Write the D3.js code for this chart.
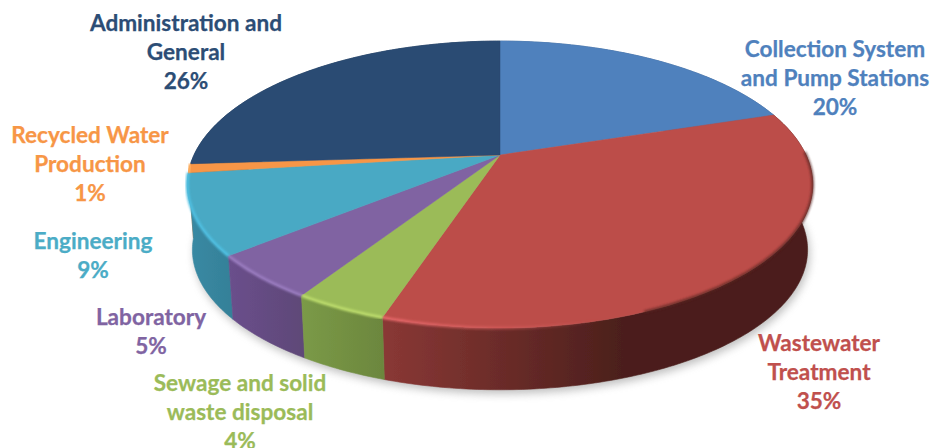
<!DOCTYPE html>
<html>
<head>
<meta charset="utf-8">
<script src="https://cdn.jsdelivr.net/npm/d3@7/dist/d3.min.js"></script>
<style>
html, body { margin: 0; background: #fff; }
svg { display: block; }
text { font-family: Lato, "Open Sans", sans-serif; font-weight: 700; font-size: 22.6px; text-anchor: middle; dominant-baseline: central; stroke-width: 0.25px; paint-order: stroke; }
</style>
</head>
<body>
<svg id="chart" width="946" height="448"></svg>
<script>
// Budget shares by department, clockwise from twelve o'clock.
const categories = [
  "Collection System and Pump Stations", "Wastewater Treatment",
  "Sewage and solid waste disposal", "Laboratory", "Engineering",
  "Recycled Water Production", "Administration and General"
];
const shares = [20, 35, 4, 5, 9, 1, 26];
const labelLines = [
  ["Collection System", "and Pump Stations"], ["Wastewater", "Treatment"],
  ["Sewage and solid", "waste disposal"], ["Laboratory"], ["Engineering"],
  ["Recycled Water", "Production"], ["Administration and", "General"]
];
const faceColors = ["#4f81bd", "#bc4e4a", "#9bbb59", "#8064a2", "#49a9c4", "#f79646", "#2a4b73"];
const textColors = ["#4f81bd", "#c0504d", "#9bbb59", "#8064a2", "#4bacc6", "#f79646", "#2c4d75"];
const wallStops = [
  ["#3c6190", "#3c6190"], ["#8a3835", "#4b1f1c"], ["#7b9a47", "#6c873e"],
  ["#6a4f8c", "#5f4878"], ["#3a8aa4", "#358199"], ["#c0702f", "#c0702f"], ["#203a59", "#203a59"]
];
const rimColors = ["#6f9fd8", "#e8686a", "#bcdc6c", "#9a7cc0", "#4fc0e2", "#ffb060", "#3a5f8c"];
const labelCenters = [[835, 48], [819, 342], [240, 382], [151, 316], [93, 240], [90, 134], [186, 22]];

const svg = d3.select("#chart");
const defs = svg.append("defs");
defs.append("filter").attr("id", "soft").attr("x", "-5%").attr("y", "-5%").attr("width", "110%").attr("height", "110%")
  .append("feGaussianBlur").attr("stdDeviation", 0.6);
defs.append("filter").attr("id", "glow").attr("x", "-5%").attr("y", "-5%").attr("width", "110%").attr("height", "110%")
  .append("feGaussianBlur").attr("stdDeviation", 1.1);
defs.append("filter").attr("id", "drop").attr("x", "-10%").attr("y", "-10%").attr("width", "120%").attr("height", "130%")
  .append("feGaussianBlur").attr("stdDeviation", 4);

// Tilted disc: unit-circle coordinates go through a perspective divide,
// so the near half of the pie looks larger than the far half.
const tilt = 0.206;
const topPlane = {
  x: d3.scaleLinear().domain([-1, 1]).range([194, 806]),
  y: d3.scaleLinear().domain([-1, 1]).range([17.6, 292.4])
};
const basePlane = {
  x: d3.scaleLinear().domain([-1, 1]).range([199, 801]),
  y: d3.scaleLinear().domain([-1, 1]).range([87, 355])
};
const project = (plane, angle) => {
  const u = Math.sin(angle), v = -Math.cos(angle), w = 1 - tilt * v;
  return [plane.x(u / w), plane.y(v / w)];
};
const rim = (plane, a0, a1) => {
  const n = Math.max(2, Math.ceil((a1 - a0) / 0.015));
  return d3.range(n + 1).map(i => project(plane, a0 + (a1 - a0) * i / n));
};
const line = d3.line();

const arcs = d3.pie().sort(null).value(d => d)(shares);
const centre = [topPlane.x(0), topPlane.y(0)];
const fullCircle = rim(basePlane, 0, 2 * Math.PI);

// Soft ground shadow under the front edge.
svg.append("path").attr("d", line(fullCircle) + "Z")
  .attr("transform", "translate(2,4)")
  .attr("fill", "#8a8a8a").attr("opacity", 0.55).attr("filter", "url(#drop)");

// Side walls, each shaded left to right, far slices first.
const order = d3.range(arcs.length).sort((a, b) =>
  Math.abs(Math.PI - (arcs[b].startAngle + arcs[b].endAngle) / 2) -
  Math.abs(Math.PI - (arcs[a].startAngle + arcs[a].endAngle) / 2));

order.forEach(i => {
  const a = arcs[i], upper = rim(topPlane, a.startAngle, a.endAngle), lower = rim(basePlane, a.startAngle, a.endAngle);
  const xs = d3.extent(upper, p => p[0]);
  const grad = defs.append("linearGradient").attr("id", "wall" + i)
    .attr("gradientUnits", "userSpaceOnUse")
    .attr("x1", xs[0]).attr("x2", xs[1]).attr("y1", 0).attr("y2", 0);
  if (i === 1) {
    // The long front wall reaches its darkest tone about halfway along.
    grad.append("stop").attr("offset", 0).attr("stop-color", wallStops[i][0]);
    grad.append("stop").attr("offset", 0.56).attr("stop-color", wallStops[i][1]);
    grad.append("stop").attr("offset", 1).attr("stop-color", wallStops[i][1]);
  } else {
    grad.append("stop").attr("offset", 0).attr("stop-color", wallStops[i][0]);
    grad.append("stop").attr("offset", 1).attr("stop-color", wallStops[i][1]);
  }
  svg.append("path").attr("d", line(upper.concat(lower.slice().reverse())) + "Z")
    .attr("fill", `url(#wall${i})`).attr("stroke", `url(#wall${i})`).attr("stroke-width", 0.6)
    .attr("filter", "url(#soft)");
});

// Top faces.
const faces = svg.append("g").attr("filter", "url(#soft)");
arcs.forEach((a, i) => {
  faces.append("path")
    .attr("d", line([centre].concat(rim(topPlane, a.startAngle, a.endAngle))) + "Z")
    .attr("fill", faceColors[i]).attr("stroke", faceColors[i]).attr("stroke-width", 0.5);
});

// Bevel highlight along the front rim; it fades out towards the right.
const fade = defs.append("linearGradient").attr("id", "rimFade")
  .attr("gradientUnits", "userSpaceOnUse").attr("x1", 372).attr("x2", 600).attr("y1", 0).attr("y2", 0);
fade.append("stop").attr("offset", 0).attr("stop-color", rimColors[1]);
fade.append("stop").attr("offset", 1).attr("stop-color", rimColors[1]).attr("stop-opacity", 0);
arcs.forEach((a, i) => {
  if (i === 0 || i === 6) return;
  const a0 = i === 1 ? Math.max(a.startAngle, 1.6) : a.startAngle;
  svg.append("path").attr("d", line(rim(topPlane, a0, a.endAngle)))
    .attr("fill", "none")
    .attr("stroke", i === 1 ? "url(#rimFade)" : rimColors[i])
    .attr("stroke-width", 3).attr("filter", "url(#glow)");
});

// Darkened bevel on the shaded right side of the rim.
svg.append("path").attr("d", line(rim(topPlane, 1.55, 2.75)))
  .attr("fill", "none").attr("stroke", "#5a2522").attr("stroke-width", 3)
  .attr("opacity", 0.7).attr("filter", "url(#glow)");

// Category labels with their percentages.
const lineStep = 28.8;
categories.forEach((name, i) => {
  const t = svg.append("text").attr("fill", textColors[i]).attr("stroke", textColors[i]).attr("aria-label", name);
  const rows = labelLines[i].concat(shares[i] + "%");
  rows.forEach((row, r) => {
    t.append("tspan").attr("x", labelCenters[i][0]).attr("y", labelCenters[i][1] + r * lineStep).text(row);
  });
});
</script>
</body>
</html>
